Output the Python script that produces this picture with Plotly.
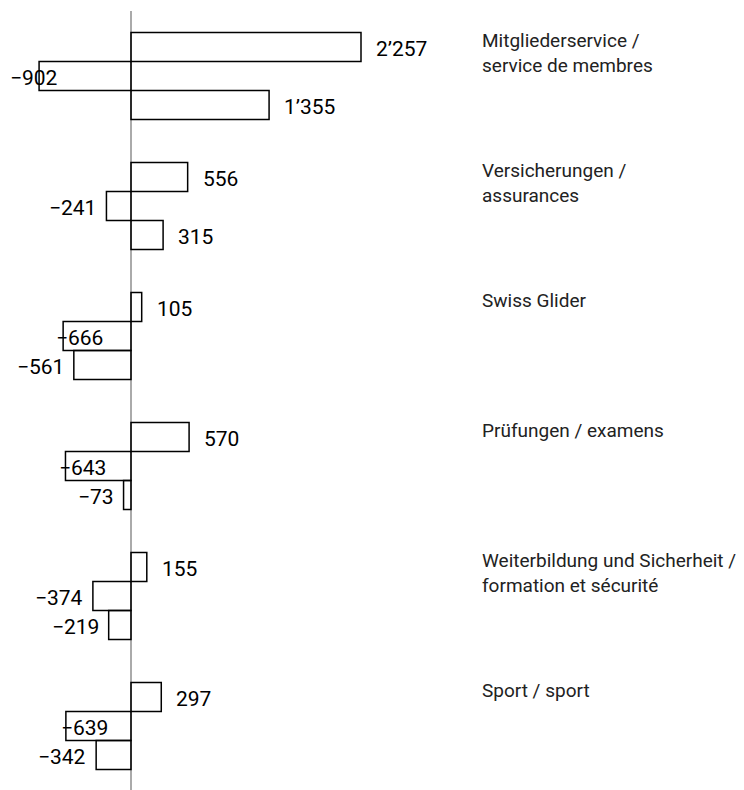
import plotly.graph_objects as go

categories = [
    "Mitgliederservice /<br>service de membres",
    "Versicherungen /<br>assurances",
    "Swiss Glider",
    "Prüfungen / examens",
    "Weiterbildung und Sicherheit /<br>formation et sécurité",
    "Sport / sport",
]
ertrag = [2257, 556, 105, 570, 155, 297]
aufwand = [-902, -241, -666, -643, -374, -639]
ergebnis = [1355, 315, -561, -73, -219, -342]

# style / layout constants (figure coordinates; page body adds 8px offset)
FONT = "Roboto"
BAR_PX = 29.0
GROUP_PITCH = 130 / BAR_PX        # group spacing in bar-height units
TOP_MARGIN = 3
FIRST_BAR_TOP = 24.5
H = 790
W = 744
ZERO_PX = 123
LABEL_X_PX = 472
PX_PER_UNIT = 230 / 2257.0

# special label shifts for expense labels that sit over their bars (px, left anchored)
over_bar_shift = {0: -29, 2: -7, 3: -6, 5: -5}

def fmt(v):
    s = f"{abs(v):,}".replace(",", "\u2019")
    return ("\u2212" + s) if v < 0 else s

series = [ertrag, aufwand, ergebnis]
fig = go.Figure()
annotations = []
for k, vals in enumerate(series):
    ys = [g * GROUP_PITCH + k for g in range(len(categories))]
    fig.add_trace(go.Bar(
        x=vals, y=ys, orientation="h", width=1.0,
        marker=dict(color="rgba(0,0,0,0)", line=dict(color="black", width=1.5)),
        showlegend=False, hoverinfo="x",
    ))
    for g, (v, y) in enumerate(zip(vals, ys)):
        if v >= 0:
            a = dict(x=v, y=y, xanchor="left", xshift=13)
        elif k == 1 and g in over_bar_shift:
            a = dict(x=v, y=y, xanchor="left", xshift=over_bar_shift[g] - 2)
        else:
            a = dict(x=v, y=y, xanchor="right", xshift=-8)
        a.update(text=fmt(v), showarrow=False, yanchor="middle", xref="x", yref="y",
                 yshift=-1.5, font=dict(family=FONT, size=21, color="black"))
        annotations.append(a)

for g, cat in enumerate(categories):
    annotations.append(dict(
        x=(LABEL_X_PX - ZERO_PX) / PX_PER_UNIT, xref="x",
        y=g * GROUP_PITCH - 0.5, yref="y",
        text=cat, showarrow=False, xanchor="left", yanchor="top", align="left",
        font=dict(family=FONT, size=19, color="#222222"), yshift=6,
    ))

plot_h = H - TOP_MARGIN
units = plot_h / BAR_PX
top_val = -0.5 - (FIRST_BAR_TOP - TOP_MARGIN) / BAR_PX
x0 = -ZERO_PX / PX_PER_UNIT
x1 = (W - ZERO_PX) / PX_PER_UNIT

fig.update_layout(
    width=W, height=H,
    margin=dict(l=0, r=0, t=TOP_MARGIN, b=0, pad=0),
    plot_bgcolor="white", paper_bgcolor="white",
    barmode="overlay",
    annotations=annotations,
    xaxis=dict(range=[x0, x1], showgrid=False, showticklabels=False, ticks="",
               zeroline=True, zerolinecolor="#aaaaaa", zerolinewidth=1.5, fixedrange=True),
    yaxis=dict(range=[top_val + units, top_val], showgrid=False, showticklabels=False,
               ticks="", zeroline=False, fixedrange=True),
    font=dict(family=FONT),
)

fig.write_html("out.html")
